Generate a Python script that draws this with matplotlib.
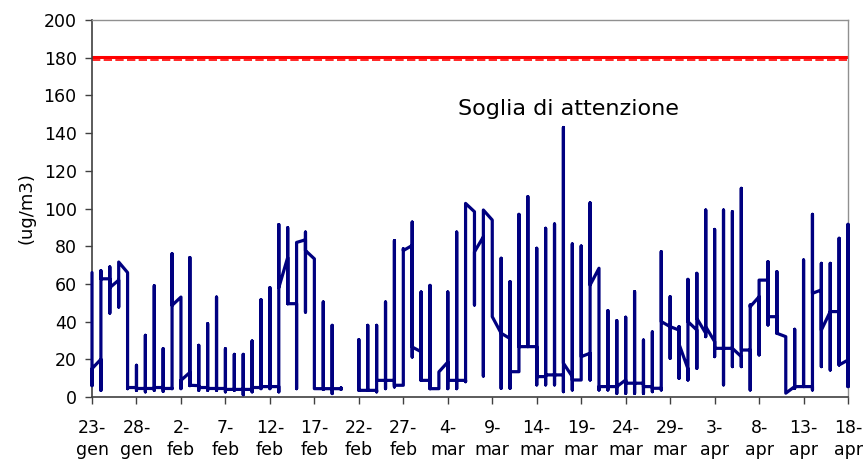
import numpy as np
import matplotlib
matplotlib.use('Agg')
import matplotlib.pyplot as plt

nan = np.nan

# one entry per day, 23 gen -> 18 apr (hourly values collapse onto the day)
day_open = [66, 20, 62.7, 62, 66, 5, 4.5, 4.5, 5, 4.5,
            53, 13, 6, 5, 4.5, 4.5, 4, 4, 4, 5,
            5.5, 5.5, 74, 49.5, 83.4, 73.3, 4.4, 4.4, 4.4, nan,
            3.5, 3.5, 3.5, 8.8, 8.8, 6.2, 80.4, 24, 8.8, 4.4,
            18.5, 8.8, 8.8, 98.3, 85, 93.9, 33.8, 31, 13.4, 26.7,
            26.7, 10.8, 11.7, 11.7, 10.8, 9, 23.2, 68.3, 5.5, 5.5,
            9, 7.3, 7.3, 5.5, 4.6, 37.3, 35.5, 15, 35.5, 33.8,
            29.4, 25.8, 25.8, 21.4, 24.9, 53.2, 62, 42.6, 32, 5.5,
            5.5, 5.5, 56.8, 45.3, 45.3, 19.6]
day_min = [6, 3.5, 44.5, 47.7, 4.4, 3.5, 2.7, 3.5, 3, 4.4,
           4.4, 6, 3.5, 3.5, 3.5, 2.7, 3.5, 1.2, 2.7, 4.4,
           4.4, 2.7, 49.5, 4.4, 45, 4.4, 4, 1.8, 4, nan,
           3.5, 3.5, 2.7, 4.4, 5.3, 6.2, 21.2, 8.8, 4.4, 4.4,
           4.4, 4.4, 8.1, 48.8, 11.1, 42.6, 4.6, 4.6, 13.4, 26.7,
           6.4, 6.4, 6.4, 2.8, 3.7, 9, 9, 3.7, 3.7, 1.9,
           1.9, 1.9, 1.9, 2.8, 3.7, 20.5, 9.9, 9, 15.2, 32,
           21.4, 6.4, 16.1, 16.1, 3.7, 22.3, 38.2, 33.8, 2, 4.6,
           5.5, 3.7, 16.1, 14.3, 17, 5.5]
day_max = [66, 67, 69, 71.6, 66, 16.8, 32.7, 59, 25.6, 76,
           53, 74, 27.4, 38.9, 53, 25.6, 22.6, 22.6, 29.7, 51.6,
           58, 91.5, 89.8, 82, 87.5, 73.3, 50.4, 38, 4.8, nan,
           30.4, 38, 38, 50.4, 83, 78.6, 92.8, 55.7, 59.2, 13.3,
           55.7, 87.5, 102.7, 98.3, 99.2, 93.9, 73.6, 61.2, 96.9, 106.3,
           78.9, 89.5, 91.8, 143, 81.2, 80.1, 103, 68.3, 45.8, 40.5,
           42.3, 55.9, 30.2, 34.5, 77.1, 53.2, 37.3, 62.4, 65.6, 99.2,
           88.9, 99.2, 98.3, 110.7, 48.8, 61.2, 71.8, 66.5, 32, 35.9,
           72.7, 96.9, 70.9, 70.9, 84.2, 91.6]
day_close = [15, 62.7, 58, 71.6, 5, 4.5, 4.5, 5, 4.5, 48.6,
             8.8, 6.2, 5, 4.5, 4.5, 4, 4, 4, 5, 5.5,
             5.5, 58, 49.5, 82, 77.7, 4.4, 4.4, 4.4, 4.4, nan,
             3.5, 3.5, 8.8, 8.8, 6.2, 77.7, 26.5, 8.8, 4.4, 13.3,
             8.8, 8.8, 102.7, 77, 99.2, 42.6, 33.8, 13.4, 26.7, 26.7,
             10.8, 11.7, 11.7, 17.9, 9, 21.4, 59.4, 5.5, 5.5, 5.5,
             7.3, 7.3, 5.5, 4.6, 40, 37.3, 28, 40, 41.7, 37.3,
             25.8, 25.8, 25.8, 24.9, 47.9, 62, 42.6, 33.8, 2, 5.5,
             5.5, 55, 35.5, 45.3, 17, 5.5]

tick_labels = ['23-\ngen', '28-\ngen', '2-\nfeb', '7-\nfeb', '12-\nfeb', '17-\nfeb',
               '22-\nfeb', '27-\nfeb', '4-\nmar', '9-\nmar', '14-\nmar', '19-\nmar',
               '24-\nmar', '29-\nmar', '3-\napr', '8-\napr', '13-\napr', '18-\napr']

soglia = 180
soglia_label = 'Soglia di attenzione'


def build_path():
    xs, ys = [], []
    for d in range(len(day_open)):
        for v in (day_open[d], day_min[d], day_max[d], day_close[d]):
            xs.append(d)
            ys.append(v)
    return xs, ys


def plot_chart():
    fig, ax = plt.subplots(figsize=(8.68, 4.67), dpi=100)
    fig.subplots_adjust(left=0.106, right=0.977, top=0.957, bottom=0.150)

    xs, ys = build_path()
    ax.plot(xs, ys, color='#000080', lw=2.3,
            solid_joinstyle='round', solid_capstyle='round', clip_on=False, zorder=3)

    # threshold: solid red band with a dashed edge underneath, as in the original
    ax.axhline(soglia + 0.3, color='#ff0000', lw=2.2, zorder=2)
    ax.axhline(soglia - 1.0, color='#ff0000', lw=1.2, ls=(0, (5, 2)), zorder=2)
    ax.text(53.6, 149.6, soglia_label, ha='center', va='baseline', fontsize=16)

    n_days = len(day_open) - 1
    ax.set_xlim(0, n_days)
    ax.set_ylim(0, 200)
    ax.set_yticks(np.arange(0, 201, 20))
    ax.set_xticks(np.arange(0, n_days + 1, 5))
    ax.set_xticklabels(tick_labels, linespacing=1.25)
    ax.tick_params(axis='both', labelsize=12.5, direction='out', length=5,
                   width=1, color='#404040')
    ax.tick_params(axis='x', pad=11)
    ax.tick_params(axis='y', pad=6)

    ax.set_ylabel('(ug/m3)', fontsize=13)
    ax.yaxis.set_label_coords(-0.075, 0.5)

    for side in ['left', 'bottom']:
        ax.spines[side].set_color('#404040')
        ax.spines[side].set_linewidth(1.2)
    for side in ['top', 'right']:
        ax.spines[side].set_color('#909090')
        ax.spines[side].set_linewidth(1)

    fig.savefig('out.png', dpi=100)


if __name__ == "__main__":
    plot_chart()
